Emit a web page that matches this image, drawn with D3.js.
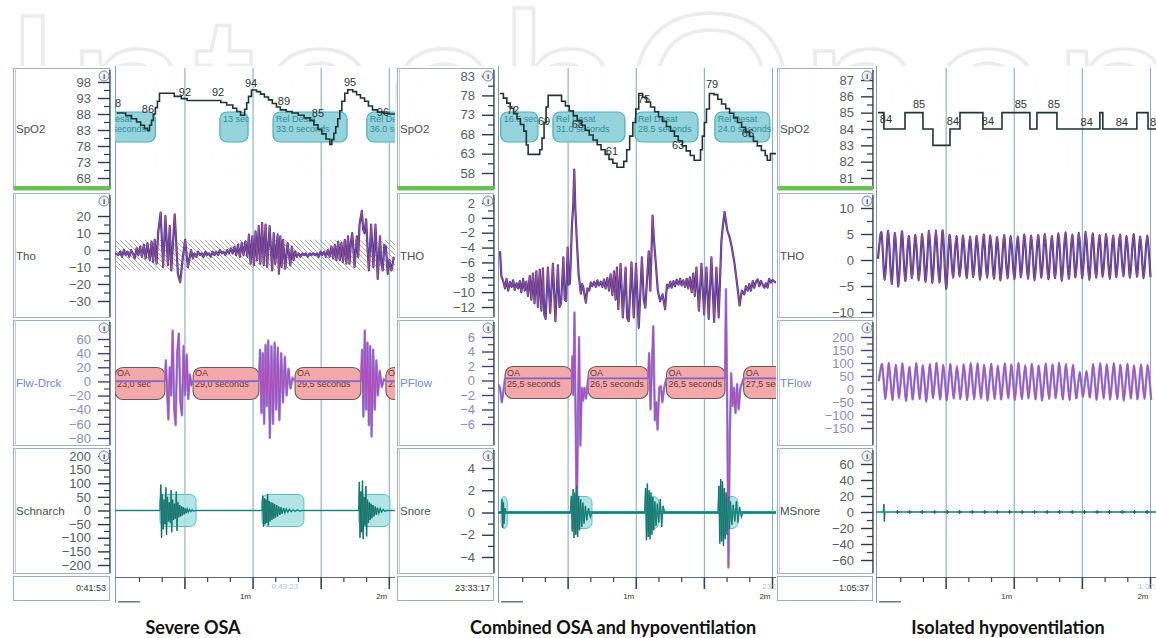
<!DOCTYPE html>
<html>
<head>
<meta charset="utf-8">
<script src="https://cdn.jsdelivr.net/npm/d3@7"></script>
<style>
  html, body { margin: 0; padding: 0; background: #fff; }
  svg { display: block; font-family: "Liberation Sans", Arial, sans-serif; }
</style>
</head>
<body>
<svg id="chart" width="1156" height="638"></svg>
<script>
// ---- data (time in seconds, 0..120 = 2 min window) ----
const captions = ["Severe OSA", "Combined OSA and hypoventilation", "Isolated hypoventilation"];
const startTimes = ["0:41:53", "23:33:17", "1:05:37"];
const faintTimes = [[74, "0:43:23"], [115.5, "23:34:47"], [114.5, "1:07:07"]];
const channelNames = [
  ["SpO2", "Tho", "Flw-Drck", "Schnarch"],
  ["SpO2", "THO", "PFlow", "Snore"],
  ["SpO2", "THO", "TFlow", "MSnore"]
];
const tickValues = [
  [[98, 93, 88, 83, 78, 73, 68], [20, 10, 0, -10, -20, -30], [60, 40, 20, 0, -20, -40, -60, -80], [200, 150, 100, 50, 0, -50, -100, -150, -200]],
  [[83, 78, 73, 68, 63, 58], [2, 0, -2, -4, -6, -8, -10, -12], [6, 4, 2, 0, -2, -4, -6], [4, 2, 0, -2, -4]],
  [[87, 86, 85, 84, 83, 82, 81], [10, 5, 0, -5, -10], [200, 150, 100, 50, 0, -50, -100, -150], [60, 40, 20, 0, -20, -40, -60]]
];
const timeTicks = [10, 20, 40, 50, 70, 80, 100, 110];
const gridTimes = [30, 60, 90, 120];
const timeLabels = [[60, "1m"], [120, "2m"]];

// panel 1 - severe OSA
const spo2P1 = [[0,88.3],[3.9,87.5],[6.5,86.5],[8.7,85.5],[10.5,84.5],[12.2,83.5],[13.5,82.8],[14.4,84.5],[15.3,86],[16.1,88],[17.0,90],[17.9,92],[18.8,94.5],[25.3,93.5],[28.4,92.8],[31.0,92.2],[45.8,91.6],[48.4,90.8],[51.1,89.8],[52.8,88.8],[54.5,87.6],[56.3,89.5],[57.2,91.5],[58.0,93.5],[59.3,95.5],[61.5,95],[63.3,94.2],[65.0,93.3],[66.8,92.4],[68.5,91.3],[70.3,90.2],[72.0,89.3],[74.6,88.8],[77.2,88.3],[79.9,87.6],[82.5,86.8],[85.1,86],[86.8,84.6],[88.6,83.2],[90.3,81.8],[92.1,80.2],[93.8,78.5],[94.7,80],[95.6,82],[96.4,84],[97.3,86.5],[98.2,89],[99.1,92],[100.4,94.5],[101.7,95.6],[103.9,95],[105.6,94],[107.3,93],[109.1,92],[110.8,90.5],[112.6,89.3],[114.8,88.6],[117.4,88.2],[120,88],[124,88]];
const spo2LabelsP1 = [[-0.8,91.4,"88"],[13.7,89.6,"86"],[30.0,94.9,"92"],[44.6,94.9,"92"],[59.1,97.7,"94"],[73.6,92.1,"89"],[88.6,88.3,"85"],[102.7,98,"95"],[117.2,88.6,"96"]];
const desatP1 = [[-12,17,"Rel Desat","29.0 seconds"],[45.4,57.8,"13 sec",""],[68.8,101.4,"Rel Desat","33.0 seconds"],[110.1,128,"Rel Desat","36.0 seconds"]];
const thoP1 = [[-1,-2],[0.7,-3],[1.5,-1],[2.3,-4],[3.1,0],[3.9,-3],[4.7,-1],[5.5,-4],[6.3,0],[7.1,-2],[7.9,-5],[8.7,1],[9.5,-3],[10.3,2],[11.1,-4],[11.9,3],[12.7,-5],[13.5,4],
  [14.5,-6],[15.3,5],[16.0,-7],[16.7,6],[17.5,-8],[18.2,10],[19.3,22],[20.4,-10],[21.4,20],[22.5,-9],[23.3,14],[24.0,-12],[25.5,21],[26.9,-14],[27.9,-19],[29.1,-4],[30.1,6],[31.3,-10],[32.7,0],[33.5,-5],[34.2,-2],[35.0,-4],[35.8,-1],[36.6,-3],
  [37.4,-2],[38.2,-4],[39.0,-1],[39.8,-3],[40.6,-2],[41.4,-4],[42.2,-1],[43.0,-3],[43.8,-1],[44.6,-3],[45.4,0],[46.2,-2],[47.0,-1],[47.8,-3],[48.6,0],[49.4,-2],[50.2,1],[51.0,-2],[51.8,2],[52.6,-3],[53.4,3],[54.2,-4],[55.0,4],[55.8,-3],[56.6,5],
  [57.5,-4],[58.2,9],[58.9,-8],[59.7,8],[60.4,-9],[61.1,11],[61.8,-6],[62.5,14],[63.2,-8],[64.0,16],[64.7,-9],[65.5,15],[66.2,-10],[67.3,14],[68.4,-12],[69.1,10],[69.8,-8],[70.8,9],[71.4,-14],[72.0,8],[72.6,-10],[73.2,6],[74.2,-11],[75.2,4],[76.4,-9],[77.1,2],[77.8,-6],[78.5,-1],[79.3,-4],
  [80.1,-2],[80.9,-4],[81.7,-2],[82.5,-3],[83.3,-2],[84.1,-4],[84.9,-2],[85.7,-3],[86.5,-2],[87.3,-3],[88.1,-2],[88.9,-4],[89.7,-1],[90.5,-3],[91.3,-1],[92.1,-4],[92.9,0],[93.7,-4],[94.5,2],
  [95.3,-5],[96.0,3],[96.7,-6],[97.5,5],[98.2,-6],[98.9,4],[99.6,-7],[100.4,6],[101.1,-8],[101.8,8],[102.5,-8],[103.1,5],[103.7,10],[104.7,-10],[105.7,8],[106.3,-4],[106.9,15],[107.9,23],[108.5,12],[109.1,10],[109.8,18],[110.4,2],[111.0,-12],[112.0,15],[113.0,-10],[113.9,15],[114.9,-17],[115.9,8],[116.5,-8],[117.1,-12],[117.8,3],[118.5,2],[119.3,-14],[120,-6],[121,-12],[122,-4]];
const hatchBandP1 = [6, -12];
const flowP1 = [[-2,0.5],[21.2,0.5],[21.6,30],[22.1,-10],[22.7,-54],[23.3,20],[23.9,-20],[24.6,72],[25.3,-40],[25.9,-62],[26.6,40],[27.3,68],[28.0,-30],[28.7,-48],[29.4,50],[30.1,-20],[30.8,38],[31.5,-25],[32.2,10],[32.9,-5],[33.6,0.5],
  [62.6,0.5],[63.1,45],[63.7,-45],[64.3,40],[64.9,-60],[65.5,52],[66.1,-35],[66.7,58],[67.4,-80],[68.1,50],[68.8,-60],[69.5,55],[70.2,-40],[70.9,48],[71.6,-55],[72.4,40],[73.2,-30],[74.0,35],[74.8,-20],[75.6,18],[76.5,-10],[77.4,5],[78.5,0.5],
  [107.5,0.5],[108.0,45],[108.6,-50],[109.2,72],[109.8,-40],[110.4,55],[111.0,-62],[111.6,50],[112.2,-78],[112.9,45],[113.6,-40],[114.3,30],[115.0,-20],[115.8,15],[116.7,-8],[117.6,3],[118.5,0.5],[125,0.5]];
const oaP1 = [[-0.8,21.2,"OA","23,0 sec"],[33.6,62.6,"OA","29,0 seconds"],[78.5,107.5,"OA","29,5 seconds"],[118.5,132,"OA","23,0 seconds"]];
const snoreP1 = [[-2,0],[19.0,0],[19.4,95],[19.7,-100],[20.0,60],[20.4,-70],[20.8,40],[21.2,-50],[21.6,85],[21.9,-90],[22.3,50],[22.7,-40],[23.1,30],[23.5,-45],[23.9,75],[24.2,-80],[24.6,40],[25.0,-35],[25.4,25],[25.8,-30],[26.2,70],[26.5,-75],[26.9,30],[27.3,-25],[27.7,20],[28.1,-22],[28.5,15],[28.9,-18],[29.3,12],[29.7,-14],[30.1,8],[30.5,-10],[31.0,6],[31.5,-6],[32.0,4],[32.6,-4],[33.2,3],[33.8,-2],[34.4,0],
  [64.0,0],[64.3,55],[64.6,-60],[65.0,45],[65.3,-50],[65.7,40],[66.0,-45],[66.4,60],[66.7,-55],[67.1,35],[67.5,-40],[67.9,30],[68.3,-35],[68.7,28],[69.1,-30],[69.5,24],[69.9,-26],[70.4,20],[70.8,-22],[71.3,15],[71.8,-16],[72.3,12],[72.8,-12],[73.4,9],[74.0,-9],[74.6,6],[75.3,-6],[76.0,4],[76.8,-4],[77.6,3],[78.5,-3],[79.5,2],[80.5,-2],[81.5,0],
  [106.5,0],[106.8,105],[107.1,-100],[107.5,70],[107.8,-80],[108.2,110],[108.5,-105],[108.9,50],[109.3,-55],[109.7,90],[110.0,-95],[110.4,40],[110.8,-45],[111.2,30],[111.6,-35],[112.0,25],[112.4,-28],[112.8,20],[113.3,-22],[113.8,15],[114.3,-16],[114.8,10],[115.4,-10],[116.0,7],[116.6,-6],[117.3,4],[118.0,-3],[118.8,0],[125,0]];
const snoreBoxesP1 = [[19.0,34.9],[63.9,82.4],[106.6,120.3]];

// panel 2 - combined OSA and hypoventilation
const spo2P2 = [[0,78.5],[1.5,77.3],[3,76],[4.5,74.7],[6,73.3],[7.5,72],[9,70.5],[10.5,68.8],[11.6,65.2],[12.4,62.8],[17.5,64],[18.5,67],[19.4,71],[20.3,75],[21.2,78],[27.1,76.5],[28.8,75.3],[30.5,74],[32.3,72.8],[34.0,71.5],[35.8,70.3],[37.5,69],[39.3,67.8],[41.0,66.5],[42.8,65.3],[44.5,64],[46.3,62.8],[48.0,61.5],[49.7,60.5],[51.5,59.5],[54.5,61],[55.8,64],[57.1,67.5],[58.5,71],[59.8,74.5],[61.1,78.5],[62.8,77.5],[64.6,76.3],[66.3,75],[68.1,73.8],[69.8,72.5],[71.6,71.3],[73.3,70],[75.1,68.8],[76.8,67.5],[78.5,66.3],[80.3,65],[82.0,63.7],[83.8,62.5],[85.5,61.3],[88.3,64],[89.1,67.5],[90.0,71],[90.9,74.5],[92.2,78.5],[94.2,78.2],[95.9,77],[97.6,75.8],[99.4,74.6],[101.1,73.4],[102.9,72.2],[104.6,71],[106.4,69.8],[108.1,68.6],[109.9,67.4],[111.6,66.2],[113.3,65],[115.1,63.8],[116.8,62.5],[117.7,61.3],[119.1,63],[124,63]];
const spo2LabelsP2 = [[5.7,74.2,"72"],[19.4,71.4,"69"],[34.3,70.6,"68"],[49.3,63.7,"61"],[63.4,77.1,"75"],[78.4,65.2,"63"],[93.4,80.9,"79"],[109.2,68.3,"66"]];
const desatP2 = [[0.3,16.7,"16.6 sec",""],[23.3,55.0,"Rel Desat","31.0 seconds"],[59.4,87.2,"Rel Desat","28.5 seconds"],[94.6,118.8,"Rel Desat","24.0 seconds"]];
const thoP2 = [[0,-4.5],[0.6,-7.8],[1.5,-8.6],[2.2,-9.5],[2.9,-8.2],[3.6,-9.8],[4.4,-8.6],[5.1,-9.3],[5.8,-8.4],[6.5,-9.7],[7.3,-8.8],[8.0,-9.5],[8.7,-8.5],[9.4,-10],[10.2,-8.2],[10.9,-9.8],[11.6,-8.6],[12.3,-10.5],[13.1,-7.8],[13.8,-11],[14.5,-7.5],[15.2,-11.5],[16.0,-7.2],[16.7,-12],[17.5,-7],[18.2,-12.5],[18.9,-6.8],[19.5,-13],[20.1,-13.6],[21.1,-6.7],[22.1,-12.8],[23.3,-6.2],[24.4,-13.9],[25.5,-6.4],[26.2,-12],[26.9,-11.5],[27.9,-5.3],[28.5,-11],[29.1,-11.2],[29.8,-4],[30.3,-9],[30.8,-8.8],[31.7,-0.9],[32.3,2],[32.7,6.5],[33.2,1],[33.7,-2.2],[34.6,-7.5],[35.6,-10.2],[36.2,-8.9],[36.7,-9.4],[37.8,-11.4],[38.5,-9.5],[39.3,-9.8],[40.0,-8.7],[40.7,-9.2],[41.5,-8.6],[42.2,-9.3],[42.9,-8.4],[43.6,-9.1],[44.4,-8.6],[45.1,-9.3],[45.8,-8.3],[46.5,-9.5],[47.3,-8.1],[48.0,-9.8],[48.7,-7.6],[49.5,-10.4],[50.2,-7.2],[50.9,-11],[51.5,-6.7],[52.1,-12.3],[53.1,-6.2],[54.1,-13.4],[55.3,-6.7],[56.0,-13.5],[56.7,-13.9],[57.9,-6],[58.9,-13.4],[59.9,-6.2],[61.1,-14.8],[62.5,-5.3],[63.3,-11],[64.0,-12.1],[65.5,-4.5],[66.2,-9.8],[67.2,0.3],[67.8,-3],[68.4,-5.3],[69.5,-9.8],[70.5,-11.2],[71.6,-10.3],[72.7,-12.3],[73.5,-9],[74.2,-9.4],[75.0,-8.6],[75.6,-9.4],[76.4,-8.5],[77.1,-9.2],[77.8,-8.3],[78.6,-9.0],[79.3,-8.2],[80.0,-9.1],[80.7,-8.4],[81.5,-9.3],[82.2,-8.2],[82.9,-9.5],[83.6,-8],[84.4,-10],[85.1,-7.5],[85.8,-10.5],[86.5,-6.7],[87.6,-12.5],[88.7,-6.2],[89.9,-13],[90.9,-6.7],[91.9,-13.6],[93.1,-5.3],[94.3,-14],[95.3,-6.7],[96.3,-13.4],[97.5,-3.1],[98.2,-1],[98.9,0.8],[99.5,-0.5],[100.1,-1.7],[101.1,-2.6],[102.1,-4],[103.3,-6.2],[104.4,-8.9],[105.5,-11.8],[106.5,-9.8],[107.6,-10.3],[108.3,-9.2],[109.1,-9.8],[109.8,-8.9],[110.5,-9.8],[111.3,-8.5],[112.0,-9.4],[112.7,-8.6],[113.5,-8.3],[114.2,-9.2],[114.9,-8.5],[115.7,-9.0],[116.4,-9.4],[117.1,-8.8],[117.8,-9.4],[118.5,-8.2],[119.3,-8.7],[120,-8.4],[122,-8.8]];
const flowP2 = [[-1,-0.5],[0,-1],[0.8,-3],[1.5,-1.5],[2.2,0.3],[31.6,0.3],[31.9,3.4],[32.3,-2],[32.8,9.4],[33.3,-5],[33.8,-20],[34.3,-6],[34.8,6],[35.4,-9],[36.0,-1],[36.6,-2.8],[37.2,-1],[37.9,-2.5],[38.8,0.3],
  [65.2,0.3],[65.7,3.8],[66.3,-4],[66.9,2],[67.5,7.5],[68.2,-5.5],[68.8,-3],[69.4,-6.8],[70.1,-1],[70.8,-0.8],[71.5,-3],[72.3,-1],[73.3,0.3],
  [99.1,0.3],[99.5,12.6],[100.1,-5],[100.6,-25.8],[101.2,-8],[101.8,1],[102.4,-3.5],[103.0,-1],[103.7,-4.5],[104.4,-0.5],[105.1,-4],[105.9,-1],[107.3,0.3],[124,0.3]];
const oaP2 = [[2.2,31.6,"OA","25,5 seconds"],[38.8,65.2,"OA","26,5 seconds"],[73.3,99.1,"OA","26,5 seconds"],[107.3,126,"OA","27,5 seconds"]];
const snoreP2 = [[-2,0],[0.6,0],[0.9,1.2],[1.2,-1.4],[1.5,0.9],[1.8,-1.0],[2.2,0.4],[2.6,0],
  [31.0,0],[31.4,1.5],[31.8,-1.7],[32.2,2.1],[32.6,-2.3],[33.0,1.8],[33.4,-2.0],[33.8,2.4],[34.2,-2.2],[34.6,1.5],[35.0,-1.6],[35.5,1.2],[36.0,-1.3],[36.5,0.9],[37.0,-1.0],[37.6,0.6],[38.2,-0.7],[39.0,0.4],[39.8,-0.4],[40.5,0],
  [63.7,0],[64.1,2.2],[64.5,-2.5],[64.9,2.6],[65.3,-2.2],[65.7,2.0],[66.1,-2.4],[66.5,1.8],[66.9,-2.0],[67.3,1.4],[67.7,-1.6],[68.2,1.0],[68.7,-1.2],[69.3,0.8],[69.9,-0.9],[70.6,1.2],[71.2,-1.3],[71.8,0.6],[72.5,0],
  [96.0,0],[96.4,2.4],[96.8,-2.8],[97.2,3.0],[97.6,-2.6],[98.0,2.8],[98.4,-3.0],[98.8,2.2],[99.2,-2.4],[99.6,1.8],[100.0,-2.0],[100.5,1.4],[101.0,-1.5],[101.5,1.0],[102.1,-1.1],[102.7,0.7],[103.4,-0.8],[104.1,1.0],[104.8,-0.9],[105.5,0.5],[106.3,-0.4],[107,0],[125,0]];
const snoreBoxesP2 = [[0.5,3.2],[32.6,40.5],[65.2,70.0],[97.8,104.8]];

// panel 3 - isolated hypoventilation
const spo2P3 = [[0,85],[2.6,84],[11.9,85],[19.8,84],[24.2,83],[31.7,84],[36.1,85],[46.2,84],[54.6,85],[66.9,84],[70.0,85],[78.8,84],[97.7,85],[99.0,84],[114.0,85],[118.9,84],[124,84]];
const spo2LabelsP3 = [[3.5,84.6,"84"],[18.1,85.5,"85"],[33.0,84.5,"84"],[48.4,84.5,"84"],[62.9,85.5,"85"],[77.5,85.5,"85"],[91.9,84.4,"84"],[107.4,84.4,"84"],[122.5,84.4,"84"]];
const thoStepP3 = 1.5;   // seconds between alternate peak / trough readings
const thoP3 = [0.2, 5.3,-3.8, 5.6,-4.6, 5.2,-5.1, 5.5,-4.0, 4.6,-3.5, 4.8,-3.9, 5.0,-4.2, 5.6,-4.4, 5.8,-4.4, 5.7,-5.5,
  4.8,-3.4, 4.6,-3.2, 4.7,-3.5, 4.5,-3.3, 4.6,-3.8, 4.9,-3.4, 4.7,-3.6, 4.4,-3.9, 4.8,-3.5, 4.6,-3.7,
  4.5,-3.3, 4.9,-3.6, 4.7,-3.9, 4.8,-3.4, 5.0,-3.7, 4.6,-3.5, 5.1,-4.0, 5.3,-3.6, 4.9,-3.3, 5.2,-3.5,
  5.4,-3.8, 5.1,-3.4, 4.8,-3.2, 5.0,-3.6, 4.7,-3.3, 4.9,-3.1, 4.6,-3.4, 5.0,-3.2, 4.5,-3.5, 4.7,-3.3];
const tflowStartP3 = 0.3;
const tflowP3 = [30, 95,-38, 100,-42, 92,-35, 98,-45, 85,-40, 100,-38, 90,-48, 95,-35, 100,-40, 92,-44,
  96,-36, 88,-38, 94,-42, 100,-40, 98,-36, 92,-44, 96,-38, 90,-40, 98,-35, 94,-42,
  100,-38, 92,-36, 96,-40, 90,-44, 97,-38, 94,-35, 100,-40, 96,-42, 92,-36, 65,-30,
  70,-32, 95,-42, 98,-36, 94,-40, 100,-38, 92,-44, 96,-36, 90,-40, 95,-38, 92,-42];
const msnoreP3 = [[-2,0],[2.4,0],[2.6,10],[2.8,-12],[3.0,0],[125,0]];
const msnoreMarksP3 = [8.5,14,19.5,25,30.5,36,41.5,47,52.5,58,63.5,69,74.5,80,85.5,91,96.5,102,107.5,113,118.5];

// ---- layout (pixels) ----
const plotW = 272.5;
const layout = [
  { x0: 13,  axisX: 110, t0: 116.8, clip: [115, 395], cap: 193 },
  { x0: 397, axisX: 494, t0: 500,   clip: [498, 776], cap: 613 },
  { x0: 777, axisX: 873, t0: 878,   clip: [876, 1156], cap: 1008 }
];
const rowsY = [[68, 190], [193, 318], [320, 446], [448, 574]];
const tickSpan = [
  [[82, 178], [216, 301], [339, 438], [456, 565]],
  [[76, 173], [203, 307], [337, 424], [468, 557]],
  [[80, 178], [208, 312], [337, 428], [464, 560]]
];

const panels = [
  { spo2: spo2P1, spo2Labels: spo2LabelsP1, desat: desatP1, resp: thoP1, flow: flowP1, oa: oaP1, snore: snoreP1, snoreBoxes: snoreBoxesP1, band: hatchBandP1 },
  { spo2: spo2P2, spo2Labels: spo2LabelsP2, desat: desatP2, resp: thoP2, flow: flowP2, oa: oaP2, snore: snoreP2, snoreBoxes: snoreBoxesP2 },
  { spo2: spo2P3, spo2Labels: spo2LabelsP3, desat: [],
    resp: thoP3.map((v, i) => [i * thoStepP3, v]),
    flow: tflowP3.map((v, i) => [tflowStartP3 + i * thoStepP3, v]),
    oa: [], snore: msnoreP3, snoreBoxes: [], marks: msnoreMarksP3, smooth: true }
];

const svg = d3.select("#chart");
const defs = svg.append("defs");

// hatch for the thorax effort band
defs.append("pattern")
  .attr("id", "hatch").attr("patternUnits", "userSpaceOnUse")
  .attr("width", 5).attr("height", 5)
  .append("path")
  .attr("d", "M-1,-1 L6,6 M4,-1 L6,1 M-1,4 L1,6")
  .attr("stroke", "#9a9a9a").attr("stroke-width", 0.8);

// faint publisher watermark behind everything
svg.append("text")
  .attr("x", 2).attr("y", 168)
  .attr("font-size", 220).attr("letter-spacing", 4)
  .attr("fill", "#fff").attr("stroke", "#ececec").attr("stroke-width", 3.5)
  .text("IntechOpen");

panels.forEach((P, p) => drawPanel(P, p));

function drawPanel(P, p) {
  const L = layout[p];
  const x = d3.scaleLinear().domain([0, 120]).range([L.t0, L.t0 + plotW]);
  const ys = tickValues[p].map((tv, c) =>
    d3.scaleLinear().domain([tv[0], tv[tv.length - 1]]).range(tickSpan[p][c]));
  const g = svg.append("g");

  g.append("rect")
    .attr("x", L.x0).attr("y", 66)
    .attr("width", L.clip[1] - L.x0).attr("height", 537)
    .attr("fill", "#fff").attr("fill-opacity", 0.95);

  // ---- label column ----
  rowsY.forEach((r, c) => {
    g.append("rect")
      .attr("x", L.x0 + 0.5).attr("y", r[0] + 0.5)
      .attr("width", L.axisX - L.x0 - 1).attr("height", r[1] - r[0] - 1)
      .attr("fill", "none").attr("stroke", "#a2afbd");
    g.append("line")
      .attr("x1", L.x0 + 2.5).attr("x2", L.x0 + 2.5)
      .attr("y1", r[0]).attr("y2", r[1])
      .attr("stroke", "#c4cdd6");

    const isFlow = c === 2;
    const tv = tickValues[p][c];
    const minor = d3.pairs(tv).map(d => (d[0] + d[1]) / 2);

    const ax = g.append("g")
      .attr("transform", `translate(${L.axisX},0)`)
      .call(d3.axisLeft(ys[c]).tickValues(tv).tickSize(12).tickPadding(7).tickFormat(d3.format("d")));
    ax.select(".domain").remove();
    ax.selectAll("line").attr("stroke", isFlow ? "#4a3f78" : "#2c3a52").attr("stroke-width", 1.4);
    ax.selectAll("text")
      .attr("font-family", "Liberation Sans, Arial, sans-serif")
      .attr("font-size", 13)
      .attr("fill", isFlow ? "#8c8cc4" : "#555d66");

    const mx = g.append("g")
      .attr("transform", `translate(${L.axisX},0)`)
      .call(d3.axisLeft(ys[c]).tickValues(minor).tickSize(6));
    mx.select(".domain").remove();
    mx.selectAll("text").remove();
    mx.selectAll("line").attr("stroke", isFlow ? "#4a3f78" : "#2c3a52").attr("stroke-width", 1.2);

    g.append("line")
      .attr("x1", L.axisX).attr("x2", L.axisX)
      .attr("y1", r[0] + 2).attr("y2", r[1] - 1)
      .attr("stroke", "#3b4656").attr("stroke-width", 1.3);

    // info badge
    g.append("circle")
      .attr("cx", L.axisX - 6).attr("cy", r[0] + 8).attr("r", 5)
      .attr("fill", "#eef2f8").attr("stroke", "#7d8aa0");
    g.append("text")
      .attr("x", L.axisX - 6).attr("y", r[0] + 11)
      .attr("text-anchor", "middle").attr("font-size", 8).attr("font-weight", 700)
      .attr("fill", "#34435a").text("i");

    g.append("text")
      .attr("x", L.x0 + 3).attr("y", (r[0] + r[1]) / 2 + 4)
      .attr("font-size", 11.5)
      .attr("fill", isFlow ? "#7488c6" : "#4a4f55")
      .text(channelNames[p][c]);
  });

  // SpO2 green separator
  g.append("rect")
    .attr("x", L.x0 + 1).attr("y", 186)
    .attr("width", L.axisX - L.x0 - 1).attr("height", 4.5)
    .attr("fill", "#6cbf58");

  // start time cell
  g.append("rect")
    .attr("x", L.x0 + 0.5).attr("y", 576.5)
    .attr("width", L.axisX - L.x0 - 1).attr("height", 24)
    .attr("fill", "none").attr("stroke", "#a2afbd");
  g.append("text")
    .attr("x", L.axisX - 4).attr("y", 591)
    .attr("text-anchor", "end").attr("font-size", 9).attr("fill", "#333")
    .text(startTimes[p]);

  // ---- plot area ----
  const clipId = "clip" + p;
  defs.append("clipPath").attr("id", clipId)
    .append("rect")
    .attr("x", L.clip[0]).attr("y", 60)
    .attr("width", L.clip[1] - L.clip[0]).attr("height", 545);
  const pg = g.append("g").attr("clip-path", `url(#${clipId})`);

  pg.append("line")
    .attr("x1", L.clip[0] + 0.5).attr("x2", L.clip[0] + 0.5)
    .attr("y1", 66).attr("y2", 603)
    .attr("stroke", "#7f9cb0");

  pg.selectAll(".grid").data(gridTimes).join("line")
    .attr("x1", d => x(d)).attr("x2", d => x(d))
    .attr("y1", 68).attr("y2", 577)
    .attr("stroke", "#86aebd").attr("stroke-width", 1.1);

  // time axis
  pg.append("line")
    .attr("x1", L.clip[0]).attr("x2", L.clip[1])
    .attr("y1", 577.5).attr("y2", 577.5)
    .attr("stroke", "#5d6b7a");
  pg.selectAll(".mt").data(timeTicks).join("line")
    .attr("x1", d => x(d)).attr("x2", d => x(d))
    .attr("y1", 577).attr("y2", 582)
    .attr("stroke", "#3a4656").attr("stroke-width", 1.2);
  pg.selectAll(".Mt").data(gridTimes).join("line")
    .attr("x1", d => x(d)).attr("x2", d => x(d))
    .attr("y1", 577).attr("y2", 589)
    .attr("stroke", "#3a4656").attr("stroke-width", 1.6);
  pg.selectAll(".tl").data(timeLabels).join("text")
    .attr("x", d => x(d[0]) - 2).attr("y", 599)
    .attr("text-anchor", "end").attr("font-size", 8).attr("fill", "#333")
    .text(d => d[1]);
  pg.append("text")
    .attr("x", x(faintTimes[p][0])).attr("y", 589)
    .attr("text-anchor", p === 0 ? "middle" : "start")
    .attr("font-size", 8).attr("fill", "#b9c2cc")
    .text(faintTimes[p][1]);
  pg.append("rect")
    .attr("x", L.clip[0] + 3).attr("y", 601).attr("width", 22).attr("height", 1.5)
    .attr("fill", "#6f7b88");

  // thorax hatched band
  if (P.band) {
    pg.append("rect")
      .attr("x", L.clip[0]).attr("width", L.clip[1] - L.clip[0])
      .attr("y", ys[1](P.band[0])).attr("height", ys[1](P.band[1]) - ys[1](P.band[0]))
      .attr("fill", "url(#hatch)");
  }

  // desaturation events
  const dTop = rowsY[0][0] + 44;
  const dg = pg.selectAll(".desat").data(P.desat).join("g");
  dg.append("rect")
    .attr("x", d => x(d[0])).attr("y", dTop)
    .attr("width", d => x(d[1]) - x(d[0])).attr("height", 30)
    .attr("rx", 7)
    .attr("fill", "#96d4dd").attr("stroke", "#4eaebd").attr("stroke-width", 1.2);
  dg.append("text")
    .attr("x", d => x(d[0]) + 3).attr("y", dTop + 10)
    .attr("font-size", 9).attr("fill", "#2f8d9c").text(d => d[2]);
  dg.filter(d => d[3]).append("text")
    .attr("x", d => x(d[0]) + 3).attr("y", dTop + 20)
    .attr("font-size", 9).attr("fill", "#2f8d9c").text(d => d[3]);

  // obstructive apnea events
  const oTop = ys[2](0) - 14;
  const og = pg.selectAll(".oa").data(P.oa).join("g");
  og.append("rect")
    .attr("x", d => x(d[0])).attr("y", oTop)
    .attr("width", d => x(d[1]) - x(d[0])).attr("height", 32)
    .attr("rx", 8)
    .attr("fill", "#f3a9a9").attr("stroke", "#6a5858").attr("stroke-width", 1.1);
  og.append("text")
    .attr("x", d => x(d[0]) + 2).attr("y", oTop + 9)
    .attr("font-size", 9).attr("fill", "#6a3434").text(d => d[2]);
  og.append("text")
    .attr("x", d => x(d[0]) + 2).attr("y", oTop + 20)
    .attr("font-size", 9).attr("fill", "#6a3434").text(d => d[3]);

  // snore events
  const sTop = ys[3](0) - 16;
  pg.selectAll(".sn").data(P.snoreBoxes).join("rect")
    .attr("x", d => x(d[0])).attr("y", sTop)
    .attr("width", d => x(d[1]) - x(d[0])).attr("height", 32)
    .attr("rx", 6)
    .attr("fill", "#a6dfe3").attr("fill-opacity", 0.85)
    .attr("stroke", "#63bcc4");

  // ---- traces ----
  const line = (c, curve) => d3.line().x(d => x(d[0])).y(d => ys[c](d[1])).curve(curve || d3.curveLinear);

  pg.append("path").datum(P.spo2)
    .attr("d", line(0, d3.curveStepAfter))
    .attr("fill", "none").attr("stroke", "#1f3434").attr("stroke-width", 1.6);

  const respCurve = P.smooth ? d3.curveCardinal.tension(0.1) : d3.curveLinear;
  pg.append("path").datum(P.resp).attr("d", line(1, respCurve))
    .attr("fill", "none").attr("stroke", "#3b3cab").attr("stroke-width", 2.2).attr("stroke-linejoin", "round");
  pg.append("path").datum(P.resp).attr("d", line(1, respCurve))
    .attr("fill", "none").attr("stroke", "#e2566a").attr("stroke-width", 0.6);

  const flowCurve = P.smooth ? d3.curveCardinal.tension(0.35) : d3.curveLinear;
  pg.append("path").datum(P.flow).attr("d", line(2, flowCurve))
    .attr("fill", "none").attr("stroke", "#7f9fdc").attr("stroke-width", 2.4).attr("stroke-linejoin", "round");
  pg.append("path").datum(P.flow).attr("d", line(2, flowCurve))
    .attr("fill", "none").attr("stroke", "#b04dbf").attr("stroke-width", 1.4);

  if (p === 1) {
    pg.append("line")
      .attr("x1", L.clip[0]).attr("x2", L.clip[1])
      .attr("y1", ys[3](0)).attr("y2", ys[3](0))
      .attr("stroke", "#1e9a92").attr("stroke-width", 3.2);
  }
  pg.append("path").datum(P.snore).attr("d", line(3))
    .attr("fill", "none").attr("stroke", "#21a69c").attr("stroke-width", 1.5);
  pg.append("path").datum(P.snore).attr("d", line(3))
    .attr("fill", "none").attr("stroke", "#244040").attr("stroke-width", 0.4);
  if (P.marks) {
    pg.selectAll(".mk").data(P.marks).join("path")
      .attr("d", d => `M${x(d) - 2},${ys[3](0)}h4M${x(d)},${ys[3](0) - 2}v4`)
      .attr("stroke", "#2a5050").attr("stroke-width", 1);
  }

  // SpO2 value labels
  pg.selectAll(".sl").data(P.spo2Labels).join("text")
    .attr("x", d => x(d[0])).attr("y", d => ys[0](d[1]))
    .attr("dy", "0.35em").attr("text-anchor", "middle")
    .attr("font-size", 11).attr("fill", "#2e3333")
    .text(d => d[2]);

  // caption
  svg.append("text")
    .attr("x", L.cap).attr("y", 634)
    .attr("text-anchor", "middle")
    .attr("font-family", "Lato, 'Open Sans', sans-serif")
    .attr("font-weight", 700).attr("font-size", 18).attr("fill", "#111")
    .text(captions[p]);
}
</script>
</body>
</html>
